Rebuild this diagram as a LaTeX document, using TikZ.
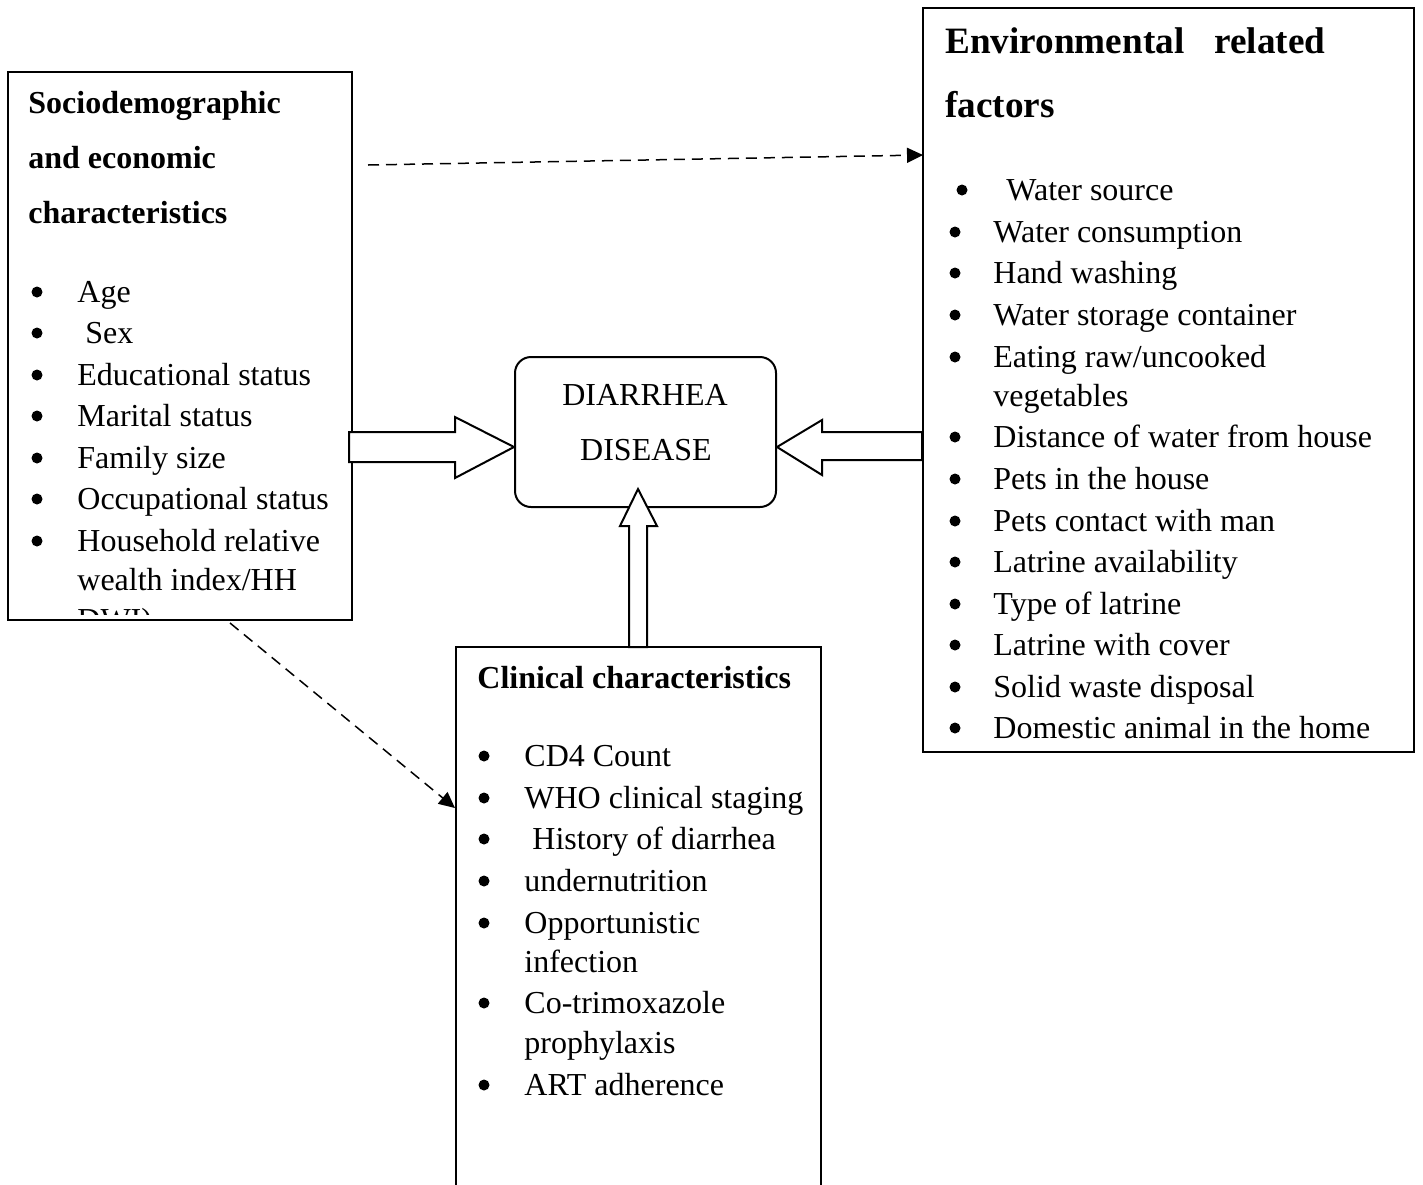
\documentclass[tikz,border=0pt]{standalone}
\usepackage{fontspec}
\setmainfont{Liberation Serif}
\usetikzlibrary{arrows.meta}
\begin{document}
\begin{tikzpicture}[x=0.5pt,y=-0.5pt,
  box/.style={draw, line width=1pt, rectangle, inner sep=0pt},
  txt/.style={anchor=base west, inner sep=0pt, font=\fontsize{16pt}{19pt}\selectfont},
  ttl/.style={anchor=base west, inner sep=0pt, font=\fontsize{16pt}{19pt}\selectfont\bfseries},
  bigttl/.style={anchor=base west, inner sep=0pt, font=\fontsize{18.6pt}{22pt}\selectfont\bfseries},
  dot/.style={circle, fill=black, inner sep=0pt, minimum size=5.5pt},
  hollow/.style={draw, fill=white, line width=1pt, line join=miter},
  dasharrow/.style={dash pattern=on 5.5pt off 3.5pt, line width=0.75pt, -{Triangle[length=8pt,width=7.5pt]}}]
\clip (0,0) rectangle (1423,1184);
\fill[white] (0,0) rectangle (1423,1184);

% boxes
\node[box, minimum width=172pt, minimum height=274pt] (soc) at (180,346) {};
\node[box, minimum width=245.5pt, minimum height=372pt] (env) at (1168.5,380) {};
\node[box, minimum width=182.5pt, minimum height=276.5pt] (clin) at (638.5,923.5) {};
\node[box, rounded corners=8pt, minimum width=130.5pt, minimum height=75pt] (dis) at (645.5,432) {};

% disease text
\node[anchor=base, inner sep=0pt, font=\fontsize{16pt}{19pt}\selectfont] (dis1) at (645,405) {DIARRHEA};
\node[anchor=base, inner sep=0pt, font=\fontsize{16pt}{19pt}\selectfont] (dis2) at (646,460) {DISEASE};

% hollow arrows
\draw[hollow] (349,432) -- (455,432) -- (455,417) -- (dis.west |- 0,447) -- (455,478) -- (455,462) -- (349,462) -- cycle;
\draw[hollow] (env.west |- 0,432) -- (822,432) -- (822,420) -- (dis.east |- 0,447) -- (822,475) -- (822,460) -- (env.west |- 0,460) -- cycle;
\draw[hollow] (629,647) -- (629,526) -- (620,526) -- (638,489) -- (657,526) -- (647,526) -- (647,647) -- cycle;

% dashed connectors
\coordinate (d1s) at (368,165);
\coordinate (d1e) at (923,155);
\draw[dasharrow] (d1s) -- (d1e);
\coordinate (d2s) at (230,623);
\coordinate (d2e) at (455,808);
\draw[dasharrow] (d2s) -- (d2e);

% left box text
\node[ttl] (st1) at (28,113) {Sociodemographic};
\node[ttl] (st2) at (28,168) {and economic};
\node[ttl] (st3) at (28,223) {characteristics};
\foreach \yy/\tx [count=\i] in {292/{Age},375/{Educational status},416/{Marital status},458/{Family size},499/{Occupational status},541/{Household relative}}{
  \node[dot] (sd\i) at (37,\yy) {};
  \node[txt] (si\i) at (77,\yy+10) {\tx};
}
\node[dot] (sdsex) at (37,333) {};
\node[txt] (sisex) at (85,343) {Sex};
\node[txt] (siw) at (77,590) {wealth index/HH};
\begin{scope}
  \clip (10,74) rectangle (350,614);
  \node[txt] (sidwi) at (77,630) {DWI)};
\end{scope}

% right box text
\node[bigttl] (et1) at (945,53) {Environmental};
\node[bigttl] (et2) at (1214,53) {related};
\node[bigttl] (et3) at (945,117) {factors};
\node[dot] (ed0) at (962,190) {};
\node[txt] (ei0) at (1006,200) {Water source};
\foreach \yy/\tx [count=\i] in {232/{Water consumption},273/{Hand washing},315/{Water storage container},357/{Eating raw/uncooked},437/{Distance of water from house},479/{Pets in the house},521/{Pets contact with man},562/{Latrine availability},604/{Type of latrine},645/{Latrine with cover},687/{Solid waste disposal},728/{Domestic animal in the home}}{
  \node[dot] (ed\i) at (955,\yy) {};
  \node[txt] (ei\i) at (993,\yy+10) {\tx};
}
\node[txt] (eiveg) at (993,406) {vegetables};

% clinical box text
\node[ttl] (ct1) at (477,688) {Clinical characteristics};
\foreach \yy/\tx [count=\i] in {756/{CD4 Count},798/{WHO clinical staging},881/{undernutrition},923/{Opportunistic},1003/{Co-trimoxazole},1085/{ART adherence}}{
  \node[dot] (cd\i) at (484,\yy) {};
  \node[txt] (ci\i) at (524,\yy+10) {\tx};
}
\node[dot] (cdhist) at (484,839) {};
\node[txt] (cihist) at (532,849) {History of diarrhea};
\node[txt] (ciinf) at (524,972) {infection};
\node[txt] (ciproph) at (524,1053) {prophylaxis};
\end{tikzpicture}
\end{document}
